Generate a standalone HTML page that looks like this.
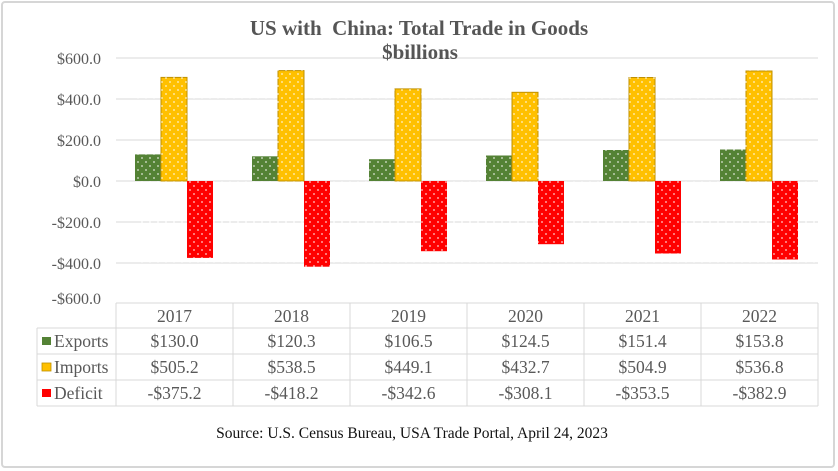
<!DOCTYPE html>
<html><head><style>
body{margin:0;background:#fff;}
svg{display:block;font-family:"Liberation Serif",serif;}
</style></head><body>
<svg width="838" height="471" viewBox="0 0 838 471" xmlns="http://www.w3.org/2000/svg">
<defs>
<pattern id="dots" width="8" height="8" patternUnits="userSpaceOnUse">
<circle cx="2" cy="2" r="0.9" fill="#fff" opacity="0.8"/><circle cx="6" cy="6" r="0.9" fill="#fff" opacity="0.8"/>
</pattern>
</defs>
<rect x="0" y="0" width="838" height="471" fill="#fff"/>
<rect x="2" y="2" width="832" height="465" rx="3" fill="#fff" stroke="#d6d6d6" stroke-width="2"/>
<g stroke="#d9d9d9" stroke-width="1">
<line x1="116" y1="58" x2="818" y2="58"/>
<line x1="116" y1="99" x2="818" y2="99"/>
<line x1="116" y1="140" x2="818" y2="140"/>
<line x1="116" y1="181" x2="818" y2="181"/>
<line x1="116" y1="222" x2="818" y2="222"/>
<line x1="116" y1="263" x2="818" y2="263"/>
</g>
<text x="419" y="35" text-anchor="middle" font-size="21" font-weight="bold" fill="#555">US with&#160; China: Total Trade in Goods</text>
<text x="420" y="59" text-anchor="middle" font-size="21" font-weight="bold" fill="#555">$billions</text>
<g font-size="16" fill="#595959" text-anchor="end">
<text x="101" y="64">$600.0</text>
<text x="101" y="105">$400.0</text>
<text x="101" y="146">$200.0</text>
<text x="101" y="187">$0.0</text>
<text x="101" y="228">-$200.0</text>
<text x="101" y="269">-$400.0</text>
<text x="101" y="304">-$600.0</text>
</g>
<g fill="#548235"><rect x="135" y="154.4" width="26" height="26.6"/><rect x="252" y="156.3" width="26" height="24.7"/><rect x="369" y="159.2" width="26" height="21.8"/><rect x="486" y="155.5" width="26" height="25.5"/><rect x="603" y="150" width="26" height="31"/><rect x="720" y="149.5" width="26" height="31.5"/></g>
<g fill="#ffc000" stroke="#bf9000" stroke-width="1"><rect x="161" y="77.4" width="26" height="103.6"/><rect x="278" y="70.6" width="26" height="110.4"/><rect x="395" y="88.9" width="26" height="92.1"/><rect x="512" y="92.3" width="26" height="88.7"/><rect x="629" y="77.5" width="26" height="103.5"/><rect x="746" y="71" width="26" height="110"/></g>
<g fill="#ff0000"><rect x="187" y="181" width="26" height="76.9"/><rect x="304" y="181" width="26" height="85.7"/><rect x="421" y="181" width="26" height="70.2"/><rect x="538" y="181" width="26" height="63.2"/><rect x="655" y="181" width="26" height="72.5"/><rect x="772" y="181" width="26" height="78.5"/></g>
<rect x="135" y="66" width="680" height="214" fill="url(#dots)"/>
<g stroke="#d9d9d9" stroke-width="1" fill="none">
<line x1="116" y1="303" x2="818" y2="303"/>
<line x1="37" y1="328" x2="818" y2="328"/>
<line x1="37" y1="354" x2="818" y2="354"/>
<line x1="37" y1="380" x2="818" y2="380"/>
<line x1="37" y1="406" x2="818" y2="406"/>
<line x1="37" y1="328" x2="37" y2="406"/>
<line x1="116" y1="303" x2="116" y2="406"/>
<line x1="233" y1="303" x2="233" y2="406"/>
<line x1="350" y1="303" x2="350" y2="406"/>
<line x1="467" y1="303" x2="467" y2="406"/>
<line x1="584" y1="303" x2="584" y2="406"/>
<line x1="701" y1="303" x2="701" y2="406"/>
<line x1="818" y1="303" x2="818" y2="406"/>
</g>
<g font-size="17.5" fill="#595959" text-anchor="middle">
<text x="174.5" y="322">2017</text><text x="291.5" y="322">2018</text><text x="408.5" y="322">2019</text><text x="525.5" y="322">2020</text><text x="642.5" y="322">2021</text><text x="759.5" y="322">2022</text>
<text x="174.5" y="347">$130.0</text><text x="291.5" y="347">$120.3</text><text x="408.5" y="347">$106.5</text><text x="525.5" y="347">$124.5</text><text x="642.5" y="347">$151.4</text><text x="759.5" y="347">$153.8</text>
<text x="174.5" y="373">$505.2</text><text x="291.5" y="373">$538.5</text><text x="408.5" y="373">$449.1</text><text x="525.5" y="373">$432.7</text><text x="642.5" y="373">$504.9</text><text x="759.5" y="373">$536.8</text>
<text x="174.5" y="399">-$375.2</text><text x="291.5" y="399">-$418.2</text><text x="408.5" y="399">-$342.6</text><text x="525.5" y="399">-$308.1</text><text x="642.5" y="399">-$353.5</text><text x="759.5" y="399">-$382.9</text>
</g>
<rect x="42" y="337" width="9" height="8" fill="#548235"/>
<rect x="42" y="363" width="9" height="8" fill="#ffc000" stroke="#bf9000" stroke-width="0.8"/>
<rect x="42" y="389" width="9" height="8" fill="#ff0000"/>
<g font-size="17.5" fill="#595959">
<text x="54" y="347">Exports</text><text x="54" y="373">Imports</text><text x="54" y="399">Deficit</text>
</g>
<text x="412" y="438" text-anchor="middle" font-size="15.5" fill="#111">Source: U.S. Census Bureau, USA Trade Portal, April 24, 2023</text>
</svg>
</body></html>
